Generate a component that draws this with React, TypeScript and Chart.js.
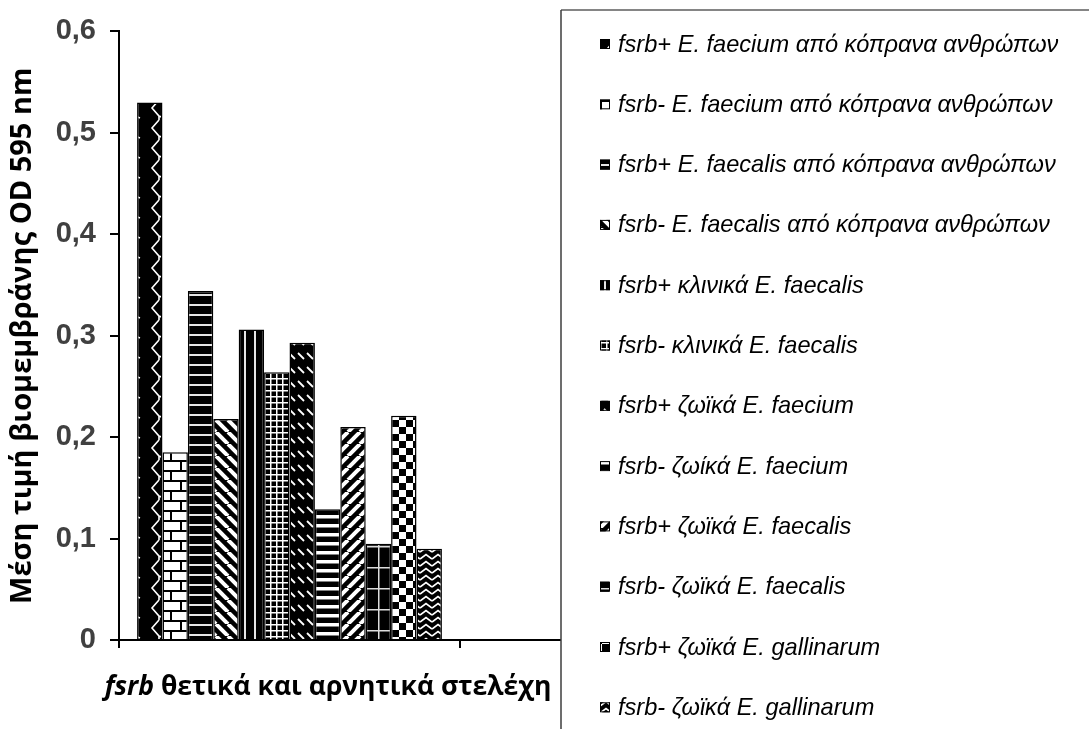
import React, { useEffect, useRef } from 'react';
import { Chart, registerables } from 'chart.js';

Chart.register(...registerables);

// ---- data ----
const categories = ['fsrb θετικά και αρνητικά στελέχη', ''];
const seriesLabels = [
  'fsrb+ E. faecium από κόπρανα ανθρώπων',
  'fsrb- E. faecium από κόπρανα ανθρώπων',
  'fsrb+ E. faecalis από κόπρανα ανθρώπων',
  'fsrb- E. faecalis από κόπρανα ανθρώπων',
  'fsrb+ κλινικά E. faecalis',
  'fsrb- κλινικά E. faecalis',
  'fsrb+ ζωϊκά E. faecium',
  'fsrb- ζωίκά E. faecium',
  'fsrb+ ζωϊκά E. faecalis',
  'fsrb- ζωϊκά E. faecalis',
  'fsrb+ ζωϊκά E. gallinarum',
  'fsrb- ζωϊκά E. gallinarum',
];
const seriesValues = [0.53, 0.185, 0.344, 0.218, 0.306, 0.264, 0.293, 0.129, 0.21, 0.095, 0.221, 0.09];
const yTickLabels = ['0', '0,1', '0,2', '0,3', '0,4', '0,5', '0,6'];
const yAxisTitle = 'Μέση τιμή βιομεμβράνης OD 595 nm';

// ---- styles ----
const seriesPatterns = [
  'zigzag', 'brick', 'darkHorizontal', 'wideDownDiag', 'darkVertical', 'smallGrid',
  'dashedDownDiag', 'narrowHorizontal', 'wideUpDiag', 'largeGrid', 'checker', 'wave',
];

type G = CanvasRenderingContext2D;

function makeTile(w: number, h: number, bg: string, draw: (g: G) => void) {
  const c = document.createElement('canvas');
  c.width = w;
  c.height = h;
  const g = c.getContext('2d') as G;
  g.fillStyle = bg;
  g.fillRect(0, 0, w, h);
  g.fillStyle = '#fff';
  g.strokeStyle = '#fff';
  draw(g);
  return c;
}

function diag(g: G, s: number, lw: number, down: boolean) {
  g.lineWidth = lw;
  for (const o of [-s, 0, s]) {
    g.beginPath();
    if (down) {
      g.moveTo(o, 0);
      g.lineTo(o + s, s);
    } else {
      g.moveTo(o, s);
      g.lineTo(o + s, 0);
    }
    g.stroke();
  }
}

function buildTile(kind: string): HTMLCanvasElement {
  switch (kind) {
    case 'zigzag':
      return makeTile(24, 20, '#000', (g) => {
        g.lineWidth = 1.6;
        g.beginPath();
        g.moveTo(15, 0);
        g.lineTo(8, 8);
        g.lineTo(15, 16);
        g.lineTo(20, 18);
        g.moveTo(15, 16);
        g.lineTo(15, 20);
        g.stroke();
      });
    case 'brick':
      return makeTile(20, 20, '#fff', (g) => {
        g.fillStyle = '#000';
        g.fillRect(0, 0, 20, 2);
        g.fillRect(0, 10, 20, 2);
        g.fillRect(0, 2, 2, 8);
        g.fillRect(10, 12, 2, 8);
      });
    case 'darkHorizontal':
      return makeTile(4, 10, '#000', (g) => {
        g.fillStyle = '#e6e6e6';
        g.fillRect(0, 4, 4, 2);
      });
    case 'darkVertical':
      return makeTile(10, 4, '#000', (g) => {
        g.fillStyle = '#e6e6e6';
        g.fillRect(4, 0, 2, 4);
      });
    case 'wideDownDiag':
      return makeTile(12, 12, '#000', (g) => diag(g, 12, 4, true));
    case 'wideUpDiag':
      return makeTile(12, 12, '#000', (g) => diag(g, 12, 4, false));
    case 'smallGrid':
      return makeTile(6, 6, '#000', (g) => {
        g.fillRect(0, 0, 6, 1.5);
        g.fillRect(0, 0, 1.5, 6);
      });
    case 'dashedDownDiag':
      return makeTile(9, 14, '#000', (g) => {
        g.lineWidth = 1.8;
        g.beginPath();
        g.moveTo(1, 3);
        g.lineTo(7, 9);
        g.stroke();
      });
    case 'narrowHorizontal':
      return makeTile(4, 9, '#000', (g) => {
        g.fillRect(0, 2, 4, 3.5);
      });
    case 'largeGrid':
      return makeTile(21, 21, '#000', (g) => {
        g.fillStyle = '#ddd';
        g.fillRect(0, 0, 21, 1.5);
        g.fillRect(0, 0, 1.5, 21);
      });
    case 'checker':
      return makeTile(14, 14, '#fff', (g) => {
        g.fillStyle = '#000';
        g.fillRect(0, 0, 7, 7);
        g.fillRect(7, 7, 7, 7);
      });
    case 'wave':
    default:
      return makeTile(12, 7, '#000', (g) => {
        g.lineWidth = 1.6;
        g.beginPath();
        g.moveTo(0, 6);
        g.lineTo(6, 1.5);
        g.lineTo(12, 6);
        g.stroke();
      });
  }
}

const LEGEND_LEFT = 561;
const LEGEND_TOP = 10;

const overlayPlugin = {
  id: 'overlay',
  afterDraw(chart: any) {
    const ctx: G = chart.ctx;
    const area = chart.chartArea;
    ctx.save();
    // x axis title (first word italic)
    const words = categories[0].split(' ');
    const first = words[0];
    const rest = ' ' + words.slice(1).join(' ');
    const fItalic = "italic bold 26.5px 'Open Sans', sans-serif";
    const fBold = "bold 26.5px 'Open Sans', sans-serif";
    ctx.font = fItalic;
    const w1 = ctx.measureText(first).width;
    ctx.font = fBold;
    const w2 = ctx.measureText(rest).width;
    const cx = (area.left + LEGEND_LEFT) / 2 - 12;
    const ty = area.bottom + 47;
    let x = cx - (w1 + w2) / 2;
    ctx.fillStyle = '#000';
    ctx.textBaseline = 'middle';
    ctx.textAlign = 'left';
    ctx.font = fItalic;
    ctx.fillText(first, x, ty);
    x += w1;
    ctx.font = fBold;
    ctx.fillText(rest, x, ty);

    // legend box
    ctx.fillStyle = '#fff';
    ctx.fillRect(LEGEND_LEFT, LEGEND_TOP, chart.width - LEGEND_LEFT + 4, chart.height - LEGEND_TOP + 4);
    ctx.strokeStyle = '#858585';
    ctx.lineWidth = 2;
    ctx.beginPath();
    ctx.moveTo(LEGEND_LEFT, LEGEND_TOP);
    ctx.lineTo(chart.width + 2, LEGEND_TOP);
    ctx.stroke();
    ctx.strokeStyle = '#3c3c3c';
    ctx.lineWidth = 1.5;
    ctx.beginPath();
    ctx.moveTo(LEGEND_LEFT, LEGEND_TOP);
    ctx.lineTo(LEGEND_LEFT, chart.height + 2);
    ctx.stroke();

    chart.data.datasets.forEach((ds: any, i: number) => {
      const cy = LEGEND_TOP + 34 + i * 60.3;
      ctx.fillStyle = ds.backgroundColor;
      ctx.fillRect(600, cy - 5, 10, 10);
      ctx.strokeStyle = '#000';
      ctx.lineWidth = 1;
      ctx.strokeRect(600.5, cy - 4.5, 9, 9);
      ctx.fillStyle = '#000';
      ctx.font = "italic 23.6px 'Liberation Sans', Arial, sans-serif";
      ctx.textBaseline = 'middle';
      ctx.fillText(ds.label, 618, cy + 1);
    });
    ctx.restore();
  },
};

export default function App() {
  const canvasRef = useRef<HTMLCanvasElement | null>(null);

  useEffect(() => {
    const canvas = canvasRef.current;
    if (!canvas) return;
    const ctx = canvas.getContext('2d') as G;
    const datasets = seriesLabels.map((label, i) => ({
      label,
      data: [seriesValues[i], null],
      backgroundColor: ctx.createPattern(buildTile(seriesPatterns[i]), 'repeat') as any,
      borderColor: '#000',
      borderWidth: 1.5,
      categoryPercentage: 0.894,
      barPercentage: 1,
    }));

    const chart = new Chart(canvas, {
      type: 'bar',
      data: { labels: categories, datasets },
      options: {
        animation: false,
        responsive: false,
        maintainAspectRatio: false,
        layout: { padding: { left: 0, top: 30, right: 288, bottom: 0 } },
        plugins: {
          legend: { display: false },
          tooltip: { enabled: false },
        },
        scales: {
          x: {
            type: 'category',
            grid: {
              display: true,
              offset: true,
              drawOnChartArea: false,
              drawTicks: true,
              tickLength: 8,
              color: '#000',
              lineWidth: 2,
            },
            border: { display: true, color: '#000', width: 2 },
            ticks: { display: false },
            afterFit: (scale: any) => {
              scale.height = 89;
            },
          },
          y: {
            min: 0,
            max: 0.6,
            grid: {
              display: true,
              drawOnChartArea: false,
              drawTicks: true,
              tickLength: 9,
              color: '#000',
              lineWidth: 2,
            },
            border: { display: true, color: '#000', width: 2 },
            ticks: {
              stepSize: 0.1,
              padding: 14,
              color: '#404040',
              font: { family: "'Liberation Sans', Arial, sans-serif", size: 29, weight: 'bold' },
              callback: (_v: any, i: number) => yTickLabels[i],
            },
            title: {
              display: true,
              text: yAxisTitle,
              color: '#000',
              font: { family: "'Open Sans', sans-serif", size: 29, weight: 'bold' },
              padding: { top: 5, bottom: 0 },
            },
            afterFit: (scale: any) => {
              scale.width = 119;
            },
          },
        },
      },
      plugins: [overlayPlugin],
    });
    return () => chart.destroy();
  }, []);

  return (
    <div style={{ position: 'absolute', left: 0, top: 0, width: 1089, height: 729, background: '#fff' }}>
      <canvas ref={canvasRef} width={1089} height={729} style={{ display: 'block' }} />
    </div>
  );
}
